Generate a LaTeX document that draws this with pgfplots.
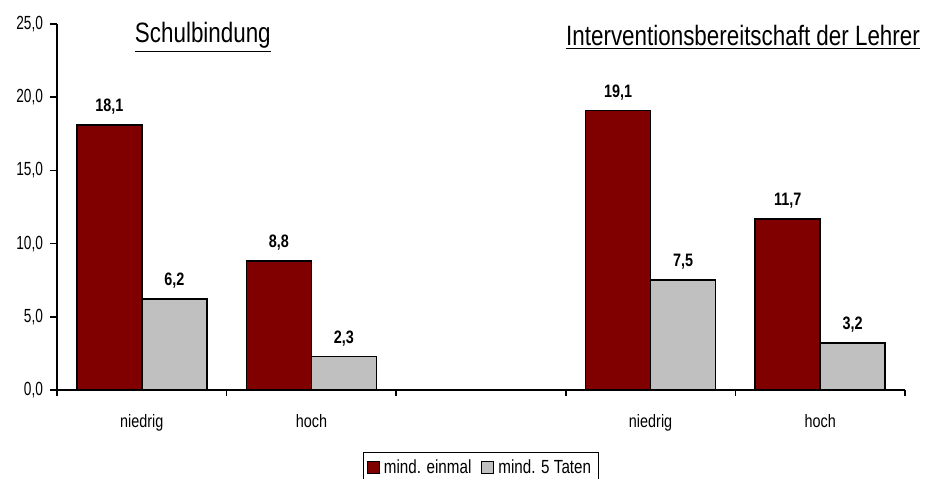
\documentclass[border=0pt]{standalone}
\usepackage{fontspec}
\setmainfont{Liberation Sans}[FakeStretch=0.8]
\newfontfamily\narrowfont{Liberation Sans}[FakeStretch=0.72]
\usepackage{pgfplots}
\pgfplotsset{compat=1.18}
\definecolor{darkred}{HTML}{800000}
\definecolor{lgrey}{HTML}{C0C0C0}
\begin{document}
\begin{tikzpicture}
\begin{axis}[name=ax,
  scale only axis, width=424pt, height=183pt,
  ybar=0pt, bar width=0.383,
  xmin=-0.5, xmax=4.5, ymin=0, ymax=25,
  axis x line=bottom, axis y line=left, axis line style={-, line width=0.8pt},
  tick align=outside, tick style={black, line width=0.8pt},
  ytick={0,5,...,25}, ytick pos=left, major tick length=3.5pt,
  yticklabel style={font=\narrowfont\fontsize{9.5}{10}\selectfont, /pgf/number format/.cd, fixed, fixed zerofill, precision=1, use comma, assume math mode=true},
  xtick={0,1,3,4}, xticklabels={niedrig,hoch,niedrig,hoch},
  major x tick style={draw=none},
  minor xtick={-0.5,0.5,...,4.5}, minor tick length=3pt,
  xticklabel style={font=\fontsize{9}{10}\selectfont, yshift=-5pt},
  nodes near coords={\pgfmathprintnumber[fixed,fixed zerofill,precision=1,use comma,assume math mode=true]{\pgfplotspointmeta}},
  every node near coord/.append style={font=\fontsize{9}{10}\selectfont\bfseries, yshift=1.5pt},
  clip=false,
  legend style={at={(0.5,-0.17)}, anchor=north, legend columns=2, draw=black, font=\fontsize{9.5}{10}\selectfont, inner sep=1.5pt, /tikz/every even column/.append style={column sep=3pt}},
  legend image code/.code={\draw[#1,draw=black,line width=0.5pt] (0pt,-3pt) rectangle (6pt,3pt);},
]
\addplot[fill=darkred, draw=black, line width=0.8pt] coordinates {(0,18.1) (1,8.8) (3,19.1) (4,11.7)};
\addplot[fill=lgrey, draw=black, line width=0.8pt] coordinates {(0,6.2) (1,2.3) (3,7.5) (4,3.2)};
\legend{mind. einmal, mind. 5 Taten}
\node[font=\fontsize{14}{16}\selectfont] at (axis cs:0.36,24.1) {\underline{Schulbindung}};
\node[font=\fontsize{14}{16}\selectfont] at (axis cs:3.545,24.1) {\underline{Interventionsbereitschaft der Lehrer}};
\end{axis}
\pgfresetboundingbox
\path (ax.south west) ++(-28.5pt,-44.5pt) rectangle (ax.north east);
\path (ax.north east) ++(10pt,12pt) coordinate (tr);
\path (tr) rectangle (tr);
\end{tikzpicture}
\end{document}
